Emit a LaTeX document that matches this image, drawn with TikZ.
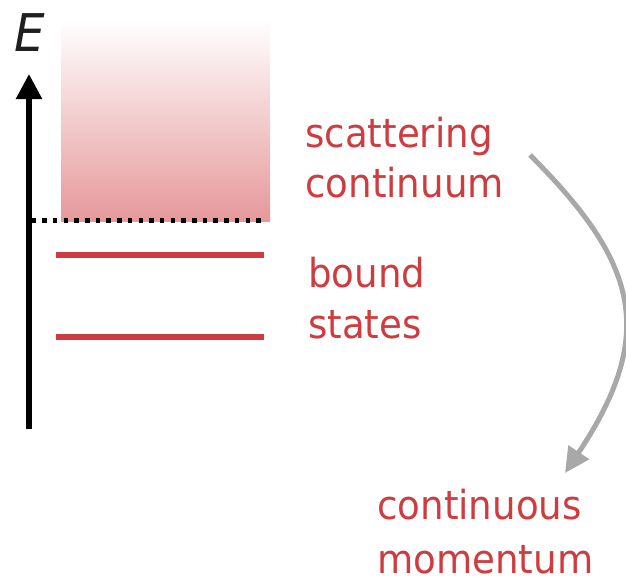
\documentclass[tikz,border=0pt]{standalone}
\usepackage{fontspec}
\setmainfont{DejaVu Sans}[FakeStretch=0.93]
\usetikzlibrary{arrows.meta}
\definecolor{levelred}{RGB}{206,60,64}
\definecolor{contred}{RGB}{230,152,154}
\definecolor{arcgray}{RGB}{168,168,168}
\tikzset{
  label text/.style={text=levelred, anchor=base west, inner sep=0pt, align=left,
    font=\fontsize{40}{50}\selectfont},
  level line/.style={levelred, line width=5.3pt},
}
\begin{document}
\begin{tikzpicture}[x=1pt,y=-1pt]
\useasboundingbox (0,0) rectangle (626,582);

% continuum above threshold
\shade[top color=white, bottom color=contred] (61,20) rectangle (270,221);
\draw[black, line width=4.5pt, dash pattern=on 4.5pt off 6.2pt] (31.5,220.5) -- (262,220.5);

% energy axis
\coordinate (axisbot) at (29,429);
\coordinate (axistop) at (29,74);
\draw[black, line width=5.5pt, -{Triangle[length=25pt,width=25pt]}] (axisbot) -- (axistop);
\node[anchor=base, inner sep=0pt, text=black!88, font=\fontsize{52}{60}\selectfont\itshape] (elabel) at (30,51) {E};

% bound levels
\draw[level line] (56,255) -- (264,255);
\draw[level line] (56,337) -- (264,337);

% base anchor sits on the last line
\node[label text] (scatt) at (305,197) {scattering\\continuum};
\node[label text, font=\fontsize{40}{51}\selectfont] (bound) at (308,338) {bound\\states};
\node[label text, font=\fontsize{40}{54}\selectfont] (contmom) at (377,573) {continuous\\momentum};

\coordinate (arcstart) at (530,155);\coordinate (arcend) at (565,473);
\draw[arcgray, line width=5pt, -{Triangle[length=25pt,width=24pt]}]
  (arcstart) .. controls (636,261) and (659,332) .. (arcend);

\end{tikzpicture}
\end{document}
